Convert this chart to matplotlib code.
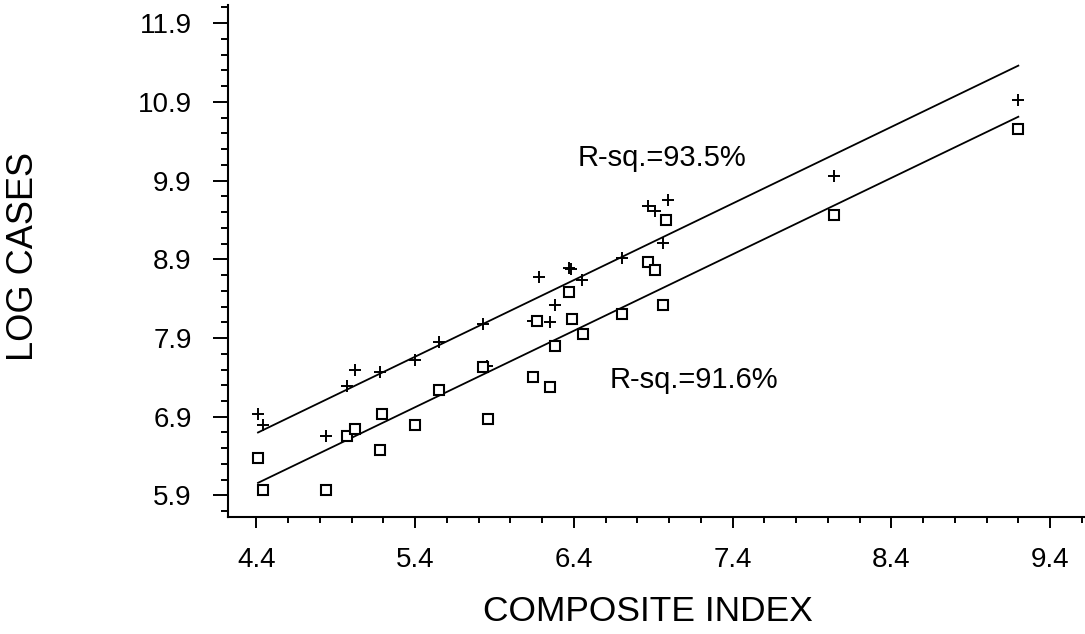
import numpy as np
import matplotlib
matplotlib.use("Agg")
import matplotlib.pyplot as plt
from matplotlib.ticker import MultipleLocator

plt.rcParams['font.family'] = ['Liberation Sans', 'DejaVu Sans']

# "+" series
x_plus = [4.41, 4.44, 4.84, 4.97, 5.02, 5.18, 5.40, 5.55, 5.83, 5.85, 6.14, 6.18,
          6.25, 6.28, 6.37, 6.38, 6.45, 6.70, 6.87, 6.91, 6.96, 6.99, 8.04, 9.20]
y_plus = [6.93, 6.80, 6.66, 7.29, 7.50, 7.47, 7.62, 7.85, 8.08, 7.54, 8.12, 8.68,
          8.11, 8.32, 8.79, 8.78, 8.64, 8.92, 9.58, 9.51, 9.11, 9.65, 9.96, 10.92]

# square series
x_sq = [4.41, 4.44, 4.84, 4.97, 5.02, 5.19, 5.18, 5.40, 5.55, 5.83, 5.86, 6.14, 6.17,
        6.25, 6.28, 6.37, 6.39, 6.46, 6.70, 6.87, 6.91, 6.96, 6.98, 8.04, 9.20]
y_sq = [6.38, 5.97, 5.97, 6.65, 6.74, 6.93, 6.48, 6.79, 7.24, 7.53, 6.87, 7.41, 8.12,
        7.28, 7.80, 8.49, 8.14, 7.95, 8.20, 8.86, 8.77, 8.32, 9.40, 9.46, 10.55]

# regression lines as drawn (slope, intercept)
fit_plus = (0.973, 2.409)
fit_sq = (0.971, 1.778)
fit_range = [4.41, 9.20]

labels_rsq = ["R-sq.=93.5%", "R-sq.=91.6%"]

fig = plt.figure(figsize=(10.85, 6.34), dpi=100)
ax = fig.add_axes([0.210, 0.185, 0.79, 0.807])

xl = np.array(fit_range)
ax.plot(xl, fit_plus[0] * xl + fit_plus[1], color='black', lw=1.3)
ax.plot(xl, fit_sq[0] * xl + fit_sq[1], color='black', lw=1.3)

ax.plot(x_plus, y_plus, linestyle='none', marker='+', color='black',
        markersize=9, markeredgewidth=1.4)
ax.plot(x_sq, y_sq, linestyle='none', marker='s', markerfacecolor='white',
        markeredgecolor='black', markersize=6.5, markeredgewidth=1.5)

ax.text(6.424, 10.09, labels_rsq[0], fontsize=21, va='baseline', ha='left')
ax.text(6.626, 7.27, labels_rsq[1], fontsize=21, va='baseline', ha='left')

ax.set_xlim(4.22, 9.62)
ax.set_ylim(5.63, 12.13)
ax.xaxis.set_major_locator(MultipleLocator(1.0, offset=0.4))
ax.xaxis.set_minor_locator(MultipleLocator(0.2, offset=0.0))
ax.yaxis.set_major_locator(MultipleLocator(1.0, offset=0.9))
ax.yaxis.set_minor_locator(MultipleLocator(0.2, offset=0.1))
ax.xaxis.set_major_formatter(plt.FormatStrFormatter('%.1f'))
ax.yaxis.set_major_formatter(plt.FormatStrFormatter('%.1f'))

for side in ['top', 'right']:
    ax.spines[side].set_visible(False)
for side in ['left', 'bottom']:
    ax.spines[side].set_linewidth(1.5)

ax.tick_params(axis='both', which='both', direction='out', width=1.4, labelsize=20)
ax.tick_params(axis='y', which='major', length=11, pad=15)
ax.tick_params(axis='y', which='minor', length=5)
ax.tick_params(axis='x', which='major', length=8, pad=14)
ax.tick_params(axis='x', which='minor', length=4)

fig.text(0.022, 0.596, "LOG CASES", rotation=90, fontsize=26, ha='center', va='center')
fig.text(0.597, 0.036, "COMPOSITE INDEX", fontsize=25.5, ha='center', va='center')

fig.savefig("out.png", dpi=100)
